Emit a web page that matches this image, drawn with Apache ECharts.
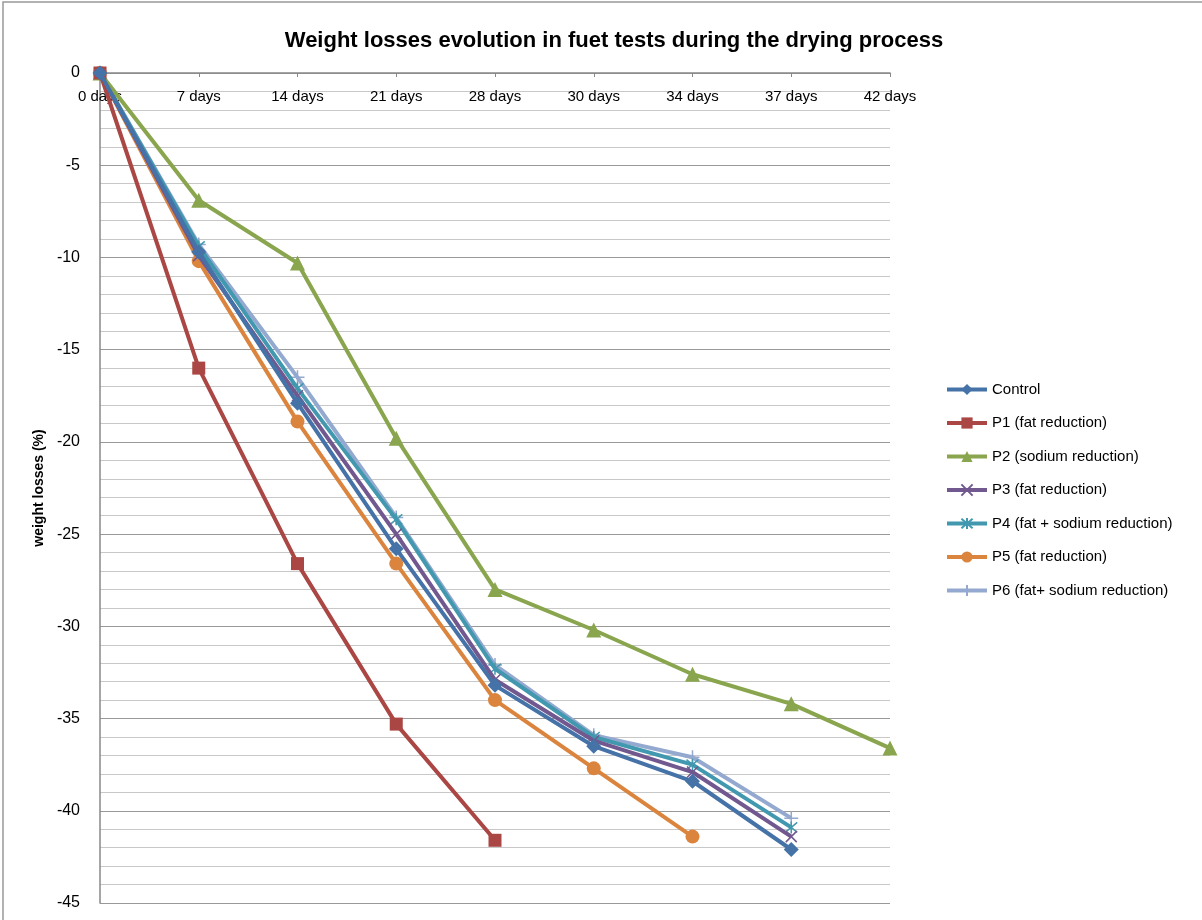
<!DOCTYPE html>
<html>
<head>
<meta charset="utf-8">
<script src="https://cdn.jsdelivr.net/npm/echarts@6/dist/echarts.min.js"></script>
<style>
html,body{margin:0;padding:0;background:#fff;}
#c{width:1202px;height:920px;}
</style>
</head>
<body>
<div id="c"></div>
<script>
const categories = ['0 days','7 days','14 days','21 days','28 days','30 days','34 days','37 days','42 days'];
const control = [0, -9.7, -17.9, -25.8, -33.2, -36.5, -38.4, -42.1, null];
const p1 = [0, -16.0, -26.6, -35.3, -41.6, null, null, null, null];
const p2 = [0, -6.9, -10.3, -19.8, -28.0, -30.2, -32.6, -34.2, -36.6];
const p3 = [0, -9.9, -17.5, -25.0, -32.9, -36.2, -37.9, -41.4, null];
const p4 = [0, -9.4, -17.1, -24.2, -32.3, -36.0, -37.5, -40.9, null];
const p5 = [0, -10.2, -18.9, -26.6, -34.0, -37.7, -41.4, null, null];
const p6 = [0, -9.3, -16.5, -24.1, -32.1, -35.9, -37.1, -40.4, null];
const seriesNames = ['Control','P1 (fat reduction)','P2 (sodium reduction)','P3 (fat reduction)','P4 (fat + sodium reduction)','P5 (fat reduction)','P6 (fat+ sodium reduction)'];

const colors = ['#4572A7','#AA4643','#89A54E','#71588F','#4198AF','#DB843D','#93A9CF'];
const symbols = [
  'diamond',
  'rect',
  'triangle',
  'path://M0,0 L10,10 M10,0 L0,10',
  'path://M0,0 L10,10 M10,0 L0,10 M5,-1 L5,11',
  'circle',
  'path://M5,0 L5,10 M0,5 L10,5'
];
const sizes = [15, 13, 15, 11, 12, 14, 14];
const datasets = [control, p1, p2, p3, p4, p5, p6];

const chart = echarts.init(document.getElementById('c'));
const font = 'Liberation Sans, Arial, sans-serif';
chart.setOption({
  animation: false,
  backgroundColor: '#fff',
  title: {
    text: 'Weight losses evolution in fuet tests during the drying process',
    left: 609, top: 25, textAlign: 'center',
    textStyle: {fontFamily: font, fontSize: 22, fontWeight: 'bold', color: '#000'}
  },
  graphic: [{
    type: 'rect', shape: {x: 3, y: 2, width: 1210, height: 930},
    style: {fill: 'none', stroke: '#999', lineWidth: 1.5}, silent: true
  }],
  legend: {
    orient: 'vertical', left: 940, top: 377,
    itemWidth: 40, itemHeight: 14, itemGap: 18.5,
    textStyle: {fontFamily: font, fontSize: 15, color: '#000'},
    lineStyle: {width: 4},
    data: seriesNames
  },
  grid: {left: 100, right: 312, top: 73, bottom: 17, containLabel: false},
  xAxis: {
    type: 'category', position: 'top', boundaryGap: false, data: categories,
    axisLine: {lineStyle: {color: '#888', width: 1.5}},
    axisTick: {show: true, inside: true, length: 4, alignWithLabel: true, lineStyle: {color: '#888'}},
    axisLabel: {inside: true, margin: 16, fontFamily: font, fontSize: 15, color: '#000', interval: 0},
    splitLine: {show: false}
  },
  yAxis: {
    type: 'value', min: -45, max: 0, interval: 5,
    name: 'weight losses (%)', nameLocation: 'middle', nameGap: 48, nameRotate: 90,
    nameTextStyle: {fontFamily: font, fontSize: 14, fontWeight: 'bold', color: '#000'},
    axisLine: {show: true, lineStyle: {color: '#888', width: 1.5}},
    axisTick: {show: false},
    axisLabel: {margin: 20, fontFamily: font, fontSize: 16, color: '#000'},
    splitLine: {show: true, lineStyle: {color: '#999', width: 1}},
    minorTick: {show: false, splitNumber: 5},
    minorSplitLine: {show: true, lineStyle: {color: '#c8c8c8', width: 1}}
  },
  series: datasets.map((d, i) => ({
    name: seriesNames[i], type: 'line', data: d,
    symbol: symbols[i], symbolSize: sizes[i], showSymbol: true,
    lineStyle: {width: 4, color: colors[i]},
    itemStyle: (i === 3 || i === 4 || i === 6)
      ? {color: colors[i], borderColor: colors[i], borderWidth: 1.5}
      : {color: colors[i]},
    connectNulls: false, z: 10 - i
  }))
});
</script>
</body>
</html>
